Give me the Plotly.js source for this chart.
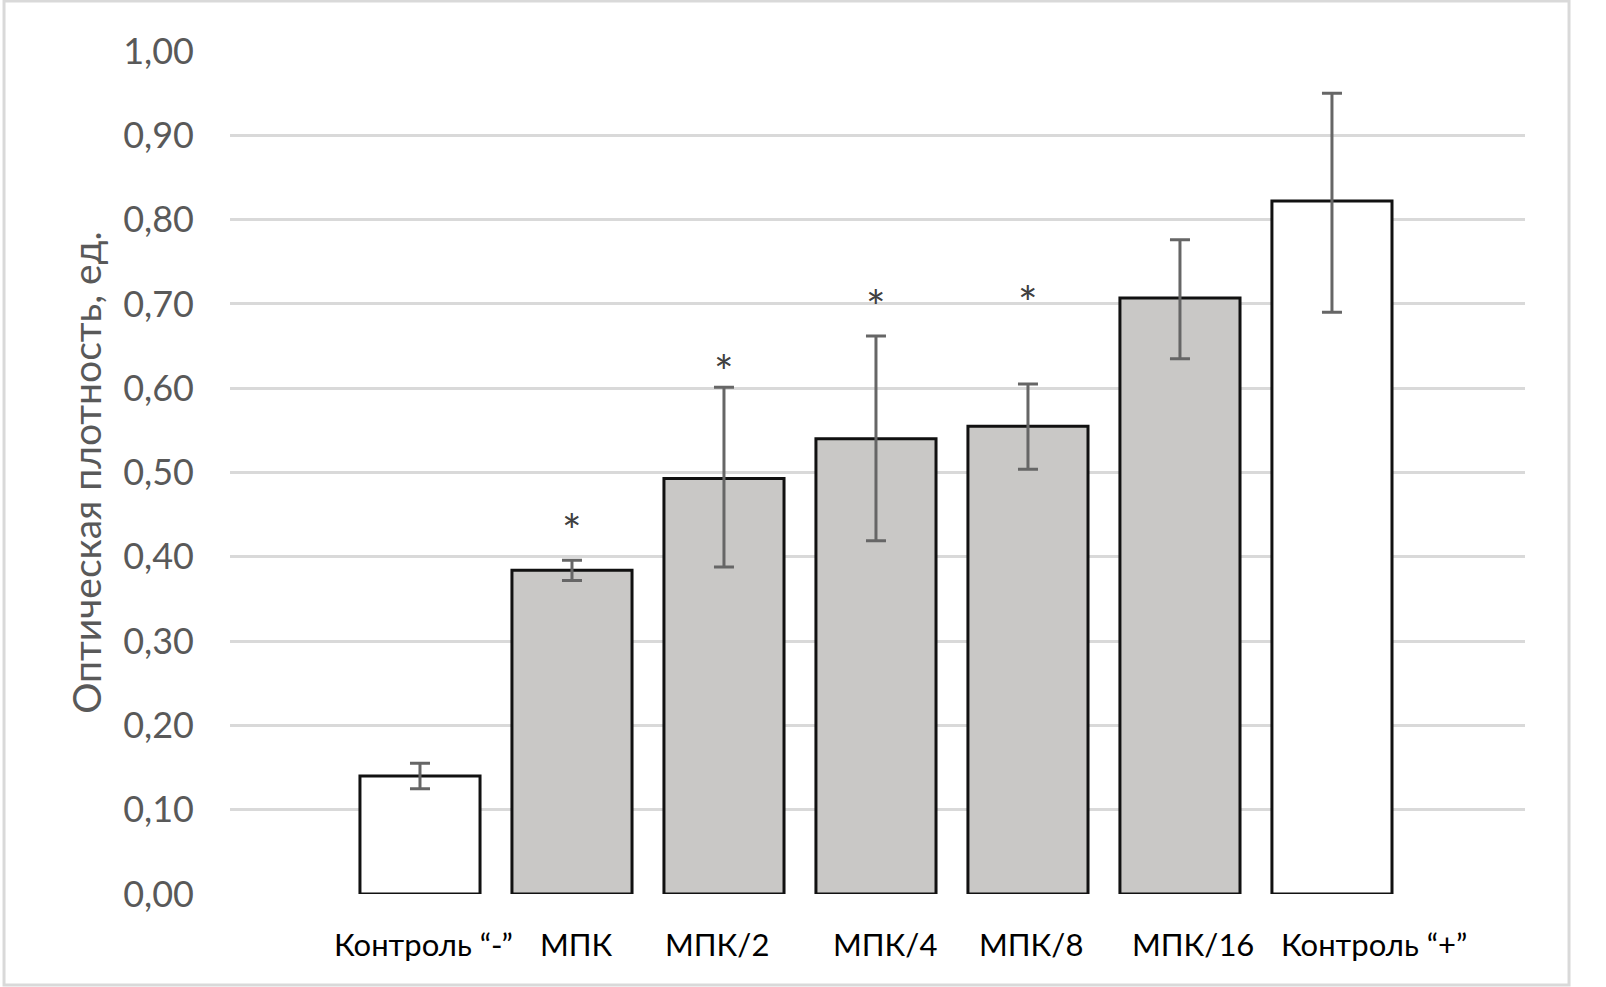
<!DOCTYPE html>
<html>
<head>
<meta charset="utf-8">
<script src="https://cdn.plot.ly/plotly-3.0.1.min.js"></script>
<style>
  html, body { margin: 0; padding: 0; background: #ffffff; }
  #chart { width: 1606px; height: 987px; }
</style>
</head>
<body>
<div id="chart"></div>
<script>
// ---- data ----
const categories = ['Контроль “-”', 'МПК', 'МПК/2', 'МПК/4', 'МПК/8', 'МПК/16', 'Контроль “+”'];
const values     = [0.140, 0.384, 0.493, 0.540, 0.555, 0.707, 0.822];
const errPlus    = [0.015, 0.012, 0.108, 0.122, 0.050, 0.069, 0.128];
const errMinus   = [0.015, 0.012, 0.105, 0.121, 0.051, 0.072, 0.132];
const barColors  = ['#ffffff', '#c9c8c6', '#c9c8c6', '#c9c8c6', '#c9c8c6', '#c9c8c6', '#ffffff'];
const starCategories = ['МПК', 'МПК/2', 'МПК/4', 'МПК/8'];
const starLevels     = [0.442, 0.630, 0.708, 0.712];
const yTickValues    = [0, 0.1, 0.2, 0.3, 0.4, 0.5, 0.6, 0.7, 0.8, 0.9, 1.0];

// style: horizontal pixel nudges of the category labels (as laid out in the original)
const labelNudge = [4, 5, -7, 9, 3, 13, 42];

const FONT = 'Lato, "Open Sans", sans-serif';

const bars = {
  type: 'bar',
  x: categories,
  y: values,
  width: 0.79,
  marker: { color: barColors, line: { color: '#111111', width: 3 } },
  error_y: {
    type: 'data', symmetric: false,
    array: errPlus, arrayminus: errMinus,
    color: '#666666', thickness: 3, width: 10
  },
  hoverinfo: 'x+y',
  showlegend: false
};

const starAnnotations = starCategories.map((c, i) => ({
  x: c, y: starLevels[i], xref: 'x', yref: 'y',
  text: '*', showarrow: false,
  xanchor: 'center', yanchor: 'middle', yshift: -9,
  font: { family: FONT, size: 46, color: '#404040' }
}));

const labelAnnotations = categories.map((c, i) => ({
  x: c, y: 0, xref: 'x', yref: 'paper',
  text: c, showarrow: false,
  xanchor: 'center', yanchor: 'middle',
  xshift: labelNudge[i], yshift: -50,
  font: { family: FONT, size: 31, color: '#000000' }
}));

const layout = {
  width: 1606,
  height: 987,
  margin: { l: 230, r: 81, t: 51, b: 93 },
  paper_bgcolor: '#ffffff',
  plot_bgcolor: '#ffffff',
  separators: ', ',
  showlegend: false,
  font: { family: FONT },
  xaxis: {
    type: 'category',
    range: [-1.25, 7.27],
    showgrid: false,
    zeroline: false,
    showline: false,
    ticks: '',
    showticklabels: false,
    fixedrange: true
  },
  yaxis: {
    range: [0, 1.0],
    tickvals: yTickValues,
    tickformat: '.2f',
    showgrid: true,
    gridcolor: '#d9d9d9',
    gridwidth: 3,
    zeroline: false,
    showline: false,
    ticks: '',
    ticklabelstandoff: 35,
    tickfont: { family: FONT, size: 36, color: '#595959' },
    title: { text: 'Оптическая плотность, ед.', font: { family: FONT, size: 39, color: '#595959' }, standoff: 9 },
    automargin: false,
    fixedrange: true
  },
  annotations: starAnnotations.concat(labelAnnotations),
  shapes: [{
    type: 'rect', xref: 'paper', yref: 'paper',
    x0: -0.1745, x1: 1.0340, y0: -0.1080, y1: 1.0592,
    line: { color: '#d9d9d9', width: 3 },
    fillcolor: 'rgba(0,0,0,0)', layer: 'below'
  }]
};

Plotly.newPlot('chart', [bars], layout, { displayModeBar: false, staticPlot: true });
</script>
</body>
</html>
